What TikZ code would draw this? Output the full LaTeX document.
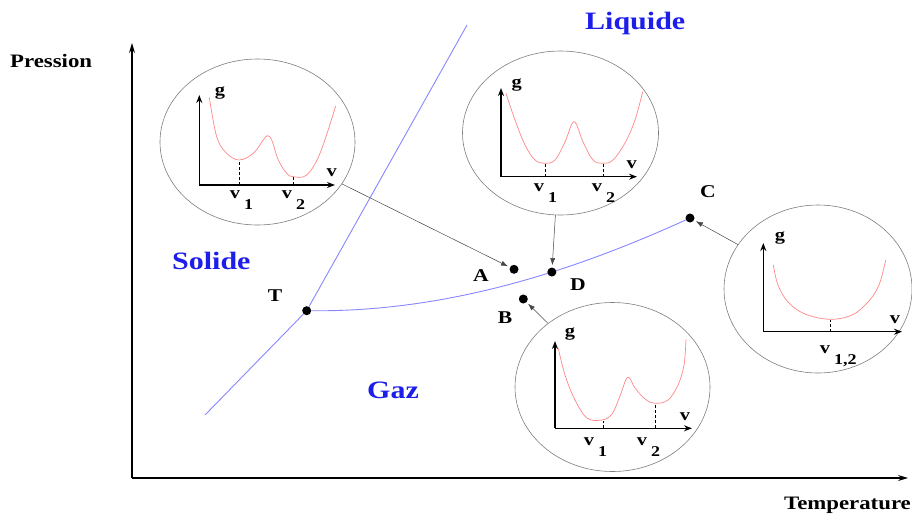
\documentclass[tikz,border=0pt]{standalone}
\usepackage{fontspec}
\setmainfont{Liberation Serif}[FakeStretch=1.2]
\usetikzlibrary{arrows.meta,shapes.geometric}
\definecolor{phasecol}{RGB}{135,135,255}
\definecolor{regioncol}{RGB}{30,30,235}
\definecolor{gcol}{RGB}{255,135,135}
\definecolor{bubblecol}{RGB}{125,125,125}
\definecolor{conncol}{RGB}{70,70,70}
\newcommand\vsub[1]{v\rlap{\kern4pt\raisebox{-11pt}{\fontsize{15}{15}\selectfont #1}}}
\begin{document}
\begin{tikzpicture}[x=1pt,y=-1pt,
  mainaxis/.style={line width=1.1pt,-{Stealth[length=10pt,width=6pt]}},
  smallaxis/.style={line width=1.4pt,-{Stealth[length=8pt,width=6pt]}},
  phaseline/.style={draw=phasecol,line width=0.9pt},
  dot/.style={circle,fill=black,inner sep=0pt,minimum size=9pt},
  bubble/.style={ellipse,draw=bubblecol,line width=0.6pt,inner sep=0pt},
  conn/.style={draw=conncol,line width=0.5pt,-{Latex[length=7pt,width=5pt]},shorten >=2pt},
  gcurve/.style={draw=gcol,line width=0.7pt},
  vdash/.style={line width=1pt,dash pattern=on 3pt off 2pt},
  region/.style={font=\fontsize{25}{25}\selectfont\bfseries,text=regioncol,inner sep=0pt,anchor=base west},
  ptlabel/.style={font=\fontsize{18}{18}\selectfont\bfseries,inner sep=0pt,anchor=base},
  axlabel/.style={font=\fontsize{19}{19}\selectfont\bfseries,inner sep=0pt,anchor=base west},
  smlabel/.style={font=\fontsize{17}{17}\selectfont\bfseries,inner sep=0pt,anchor=base}]
\useasboundingbox (0,0) rectangle (912,517);

% main axes
\coordinate (O) at (132,478);
\coordinate (Ytop) at (132,43);
\coordinate (Xend) at (908,478);
\draw[mainaxis] (O) -- (Ytop);
\draw[mainaxis] (O) -- (Xend);
\node[axlabel] (pres) at (10,67) {Pression};
\node[axlabel,anchor=base east] (temp) at (911,509.5) {Temperature};

% phase lines
\node[dot] (T) at (306.7,310.7) {};
\coordinate (SLlow) at (205,415);
\coordinate (SLtop) at (467,25);
\draw[phaseline] (SLlow) -- (T) -- (SLtop);
\node[dot] (C) at (690,218) {};
\draw[phaseline] (T) .. controls (440,312) and (565,275) .. (C)
  node[dot,pos=0.635] (D) {};
\node[dot] (A) at (514,269.3) {};
\node[dot] (B) at (523.3,299) {};

% point labels
\node[ptlabel] (lT) at (275,301) {T};
\node[ptlabel] (lA) at (481,281.5) {A};
\node[ptlabel] (lD) at (578,290) {D};
\node[ptlabel] (lB) at (505,323) {B};
\node[ptlabel] (lC) at (708,197) {C};

% region labels
\node[region] (liq) at (585,29) {Liquide};
\node[region] (sol) at (172,269) {Solide};
\node[region] (gaz) at (367,398) {Gaz};

% bubble 1 (A)
\node[bubble,minimum width=195pt,minimum height=166pt] (c1) at (257.5,142) {};
\draw[smallaxis] (199.3,185) -- (199.3,95);
\draw[smallaxis] (199.3,185) -- (335,185);
\draw[gcurve] plot[smooth,tension=0.6] coordinates {(209.3,97.3) (216.7,136.7) (226.7,153.3) (239.3,160) (253.3,153.3) (263.3,140) (267.3,135.7) (271.7,140) (278.3,160) (286.7,173.3) (293.3,176.7) (306.7,175) (320,153.3) (335.7,106)};
\draw[vdash] (239.3,185) -- (239.3,160.5);
\draw[vdash] (293.3,185) -- (293.3,177);
\node[smlabel] (g1) at (220,95) {g};
\node[smlabel] (v1ax) at (331.7,176.7) {v};
\node[smlabel] (v1a) at (235,198) {\vsub{1}};
\node[smlabel] (v1b) at (287,198) {\vsub{2}};

% bubble 2 (D)
\node[bubble,minimum width=196pt,minimum height=164pt] (c2) at (560.5,133) {};
\draw[smallaxis] (501,176.7) -- (501,88);
\draw[smallaxis] (501,176.7) -- (637,176.7);
\draw[gcurve] plot[smooth,tension=0.6] coordinates {(506,93.3) (515,120) (525,145) (535,160) (545,163.3) (555,160) (565,142) (574,121.7) (583,142) (593,160) (603.3,163.3) (613,160) (625,143) (635,120) (642.7,91.7)};
\draw[vdash] (545,176.7) -- (545,163.8);
\draw[vdash] (603.3,176.7) -- (603.3,163.8);
\node[smlabel] (g2) at (516.7,87) {g};
\node[smlabel] (v2ax) at (631.7,168) {v};
\node[smlabel] (v2a) at (539,191.7) {\vsub{1}};
\node[smlabel] (v2b) at (597,191.7) {\vsub{2}};

% bubble 3 (C)
\node[bubble,minimum width=188pt,minimum height=168pt] (c3) at (818,289) {};
\draw[smallaxis] (763.3,331.7) -- (763.3,243);
\draw[smallaxis] (763.3,331.7) -- (902,331.7);
\draw[gcurve] plot[smooth,tension=0.6] coordinates {(773.3,265) (778,285) (788,302) (805,314) (830,319.3) (852,315) (868,302) (879,285) (885.7,260)};
\draw[vdash] (830,331.7) -- (830,319.8);
\node[smlabel] (g3) at (780,240) {g};
\node[smlabel] (v3ax) at (895,323) {v};
\node[smlabel] (v3a) at (825,353) {\vsub{1,2}};

% bubble 4 (B)
\node[bubble,minimum width=195pt,minimum height=169pt] (c4) at (612.5,387) {};
\draw[smallaxis] (555,428.3) -- (555,341);
\draw[smallaxis] (555,428.3) -- (692,428.3);
\draw[gcurve] plot[smooth,tension=0.6] coordinates {(558.3,348.3) (565,375) (575,400) (587,418) (601.7,420) (612,414) (620,396) (627.7,377.3) (635,388) (645,399) (655,403.3) (668,400) (678,385) (684,365) (686,339.3)};
\draw[vdash] (603.3,428.3) -- (603.3,420.5);
\draw[vdash] (655,428.3) -- (655,403.8);
\node[smlabel] (g4) at (570,336) {g};
\node[smlabel] (v4ax) at (685,420) {v};
\node[smlabel] (v4a) at (589,445) {\vsub{1}};
\node[smlabel] (v4b) at (642,445) {\vsub{2}};

% connectors
\draw[conn] (c1) -- (A);
\draw[conn] (c2) -- (D);
\draw[conn] (c3) -- (C);
\draw[conn] (c4) -- (B);
\end{tikzpicture}
\end{document}
